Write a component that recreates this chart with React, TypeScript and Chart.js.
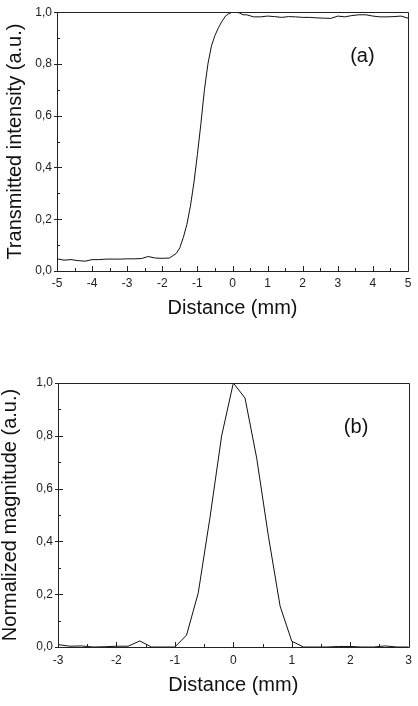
import React, { useEffect, useRef } from "react";
import { Chart, registerables } from "chart.js";

Chart.register(...registerables);

// ---------- data (panel a) ----------
const distanceA = [
  -5, -4.8, -4.6, -4.4, -4.2, -4, -3.8, -3.6, -3.4, -3.2, -3, -2.8, -2.6, -2.4, -2.2, -2, -1.8,
  -1.6, -1.5, -1.4, -1.3, -1.2, -1.1, -1, -0.9, -0.8, -0.7, -0.6, -0.5, -0.4, -0.3, -0.2, -0.1,
  0, 0.1, 0.2, 0.3, 0.4, 0.6, 0.8, 1, 1.2, 1.4, 1.6, 1.8, 2, 2.2, 2.4, 2.6, 2.8, 3, 3.2, 3.4,
  3.6, 3.8, 4, 4.2, 4.4, 4.6, 4.8, 5,
];
const intensityA = [
  0.047, 0.042, 0.044, 0.04, 0.038, 0.044, 0.044, 0.046, 0.046, 0.046, 0.047, 0.047, 0.048,
  0.056, 0.05, 0.049, 0.05, 0.068, 0.09, 0.13, 0.18, 0.25, 0.34, 0.45, 0.57, 0.7, 0.8, 0.87,
  0.91, 0.94, 0.965, 0.985, 0.995, 1.0, 1.0, 0.997, 0.99, 0.99, 0.982, 0.982, 0.985, 0.983,
  0.98, 0.983, 0.982, 0.98, 0.98, 0.978, 0.977, 0.976, 0.985, 0.982, 0.987, 0.99, 0.99, 0.985,
  0.982, 0.982, 0.983, 0.985, 0.977,
];

// ---------- data (panel b) ----------
const distanceB = [
  -3, -2.8, -2.6, -2.4, -2.2, -2, -1.8, -1.6, -1.4, -1.2, -1, -0.8, -0.6, -0.4, -0.2, 0, 0.2,
  0.4, 0.6, 0.8, 1, 1.2, 1.4, 1.6, 1.8, 2, 2.2, 2.4, 2.6, 2.8, 3,
];
const magnitudeB = [
  0.009, 0.003, 0.004, 0, 0.001, 0.003, 0.003, 0.023, 0, 0, 0, 0.045, 0.205, 0.49, 0.8, 1.0,
  0.943, 0.715, 0.42, 0.155, 0.022, 0, 0, 0, 0.002, 0.002, 0, 0, 0.004, 0, 0,
];

// ---------- axes ----------
const xRangeA = [-5, 5];
const xRangeB = [-3, 3];
const yRange = [0, 1];
const xMajorStep = 1;
const xMinorStep = 0.5;
const yMajorStep = 0.2;
const yMinorStep = 0.1;

const xTitle = "Distance (mm)";
const yTitleA = "Transmitted intensity (a.u.)";
const yTitleB = "Normalized magnitude (a.u.)";
const panelLabelA = "(a)";
const panelLabelB = "(b)";
const labelPosA = [3.7, 0.83];
const labelPosB = [2.1, 0.83];

const FONT = "'Liberation Sans', Arial, Helvetica, sans-serif";

const framePlugin = {
  id: "originFrame",
  afterDatasetsDraw(chart: any, _args: any, opts: any) {
    const { ctx, chartArea: a } = chart;
    const x = chart.scales.x;
    const y = chart.scales.y;
    ctx.save();
    ctx.strokeStyle = "#222";
    ctx.lineWidth = 1;
    ctx.beginPath();
    ctx.rect(Math.round(a.left) + 0.5, Math.round(a.top) + 0.5, Math.round(a.right - a.left), Math.round(a.bottom - a.top));
    ctx.stroke();

    ctx.beginPath();
    const eps = 1e-6;
    for (let v = x.min; v <= x.max + eps; v += xMinorStep) {
      const isMajor = Math.abs(v / xMajorStep - Math.round(v / xMajorStep)) < 1e-6;
      const px = Math.round(x.getPixelForValue(v)) + 0.5;
      const len = isMajor ? 5 : 3;
      ctx.moveTo(px, a.bottom);
      ctx.lineTo(px, a.bottom - len);
    }
    for (let v = y.min; v <= y.max + eps; v += yMinorStep) {
      const isMajor = Math.abs(v / yMajorStep - Math.round(v / yMajorStep)) < 1e-6;
      const py = Math.round(y.getPixelForValue(v)) + 0.5;
      if (isMajor) {
        ctx.moveTo(a.left - 3, py);
        ctx.lineTo(a.left + 5, py);
      } else {
        ctx.moveTo(a.left, py);
        ctx.lineTo(a.left + 3, py);
      }
    }
    ctx.stroke();

    ctx.fillStyle = "#111";
    ctx.font = `20px ${FONT}`;
    ctx.textAlign = "center";
    ctx.textBaseline = "middle";
    ctx.fillText(opts.label, x.getPixelForValue(opts.pos[0]), y.getPixelForValue(opts.pos[1]));
    ctx.restore();
  },
};

type PanelProps = {
  xs: number[];
  ys: number[];
  xRange: number[];
  yTitle: string;
  label: string;
  labelPos: number[];
  top: number;
  height: number;
  padTop: number;
  padRight: number;
  yWidth: number;
  xHeight: number;
  yTitlePad: number;
  xTitlePad: number;
  xTickPad: number;
};

function Panel(p: PanelProps) {
  const ref = useRef<HTMLCanvasElement>(null);
  useEffect(() => {
    if (!ref.current) return;
    const data = p.xs.map((v, i) => ({ x: v, y: p.ys[i] }));
    const chart = new Chart(ref.current, {
      type: "scatter",
      data: {
        datasets: [
          {
            data,
            showLine: true,
            borderColor: "#111",
            borderWidth: 1,
            pointRadius: 0,
            tension: 0,
          },
        ],
      },
      options: {
        animation: false,
        responsive: false,
        devicePixelRatio: 1,
        layout: { padding: { top: p.padTop, right: p.padRight, left: 0, bottom: 0 } },
        plugins: {
          legend: { display: false },
          tooltip: { enabled: false },
          originFrame: { label: p.label, pos: p.labelPos },
        } as any,
        scales: {
          x: {
            type: "linear",
            min: p.xRange[0],
            max: p.xRange[1],
            border: { display: false },
            grid: { display: false, drawTicks: false },
            afterFit: (s: any) => {
              s.height = p.xHeight;
            },
            ticks: {
              stepSize: xMajorStep,
              padding: p.xTickPad,
              color: "#222",
              font: { family: FONT, size: 12 },
              maxRotation: 0,
              callback: (v: any) => String(v),
            },
            title: {
              display: true,
              text: xTitle,
              color: "#111",
              font: { family: FONT, size: 20, lineHeight: 1 },
              padding: { top: 0, bottom: p.xTitlePad },
            },
          },
          y: {
            type: "linear",
            min: yRange[0],
            max: yRange[1],
            border: { display: false },
            grid: { display: false, drawTicks: false },
            afterFit: (s: any) => {
              s.width = p.yWidth;
            },
            ticks: {
              stepSize: yMajorStep,
              padding: 5,
              color: "#222",
              font: { family: FONT, size: 12 },
              callback: (v: any) => Number(v).toFixed(1).replace(".", ","),
            },
            title: {
              display: true,
              text: p.yTitle,
              color: "#111",
              font: { family: FONT, size: 20, lineHeight: 1 },
              padding: { top: p.yTitlePad, bottom: 0 },
            },
          },
        },
      },
      plugins: [framePlugin],
    } as any);
    return () => chart.destroy();
  }, []);
  return (
    <canvas
      ref={ref}
      width={418}
      height={p.height}
      style={{ position: "absolute", left: 0, top: p.top, width: 418, height: p.height }}
    />
  );
}

export default function App() {
  return (
    <div style={{ position: "absolute", left: 0, top: 0, width: 418, height: 706, background: "#fff" }}>
      <Panel
        xs={distanceA}
        ys={intensityA}
        xRange={xRangeA}
        yTitle={yTitleA}
        label={panelLabelA}
        labelPos={labelPosA}
        top={0}
        height={340}
        padTop={10}
        padRight={10}
        yWidth={57}
        xHeight={69}
        yTitlePad={5}
        xTitlePad={21.4}
        xTickPad={5}
      />
      <Panel
        xs={distanceB}
        ys={magnitudeB}
        xRange={xRangeB}
        yTitle={yTitleB}
        label={panelLabelB}
        labelPos={labelPosB}
        top={340}
        height={366}
        padTop={43}
        padRight={6}
        yWidth={58}
        xHeight={59}
        yTitlePad={0.8}
        xTitlePad={10.7}
        xTickPad={6}
      />
    </div>
  );
}
